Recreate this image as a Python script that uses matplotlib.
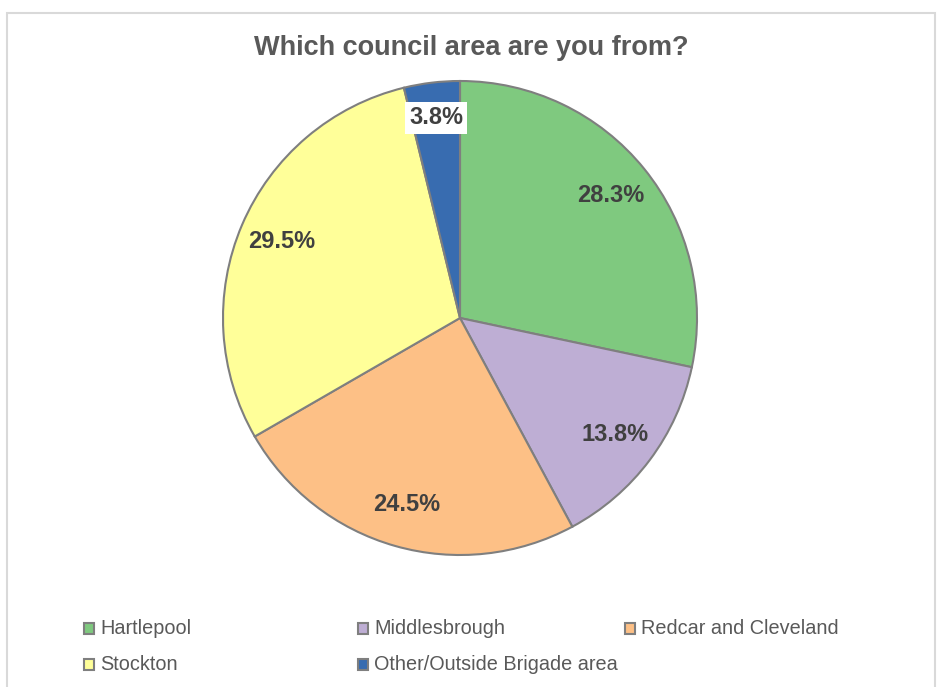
import matplotlib.pyplot as plt
import numpy as np
from matplotlib.patches import Rectangle

plt.rcParams['font.family'] = ['Liberation Sans', 'DejaVu Sans']

# survey answers
areas = ["Hartlepool", "Middlesbrough", "Redcar and Cleveland", "Stockton", "Other/Outside Brigade area"]
shares = [28.3, 13.8, 24.5, 29.5, 3.8]
colors = ["#7FC97F", "#BEAED4", "#FDC086", "#FFFF99", "#386CB0"]

fig = plt.figure(figsize=(9.42, 6.87), dpi=100)

# light grey chart frame
fig.patches.append(Rectangle((7 / 942, -0.01), 928 / 942, 1 - 13 / 687 + 0.01,
                             transform=fig.transFigure, fill=False,
                             edgecolor="#D9D9D9", linewidth=1.5))

fig.text(0.5, 1 - 48 / 687, "Which council area are you from?", ha="center", va="center",
         fontsize=19.5, fontweight="bold", color="#595959")

ax = fig.add_axes([223 / 942, 132 / 687, 474 / 942, 474 / 687])
wedges, _ = ax.pie(shares, colors=colors, startangle=90, counterclock=False,
                   wedgeprops=dict(edgecolor="#7F7F7F", linewidth=1.5))
ax.set_aspect("equal")
ax.set_xlim(-1, 1)
ax.set_ylim(-1, 1)

# percentage labels inside the slices
for w, val in zip(wedges, shares):
    mid = np.deg2rad((w.theta1 + w.theta2) / 2)
    small = val < 5
    r = 0.85 if small else 0.82
    box = dict(facecolor="white", edgecolor="none", pad=3) if small else None
    ax.text(r * np.cos(mid), r * np.sin(mid), f"{val:.1f}%", ha="center", va="center",
            fontsize=17, fontweight="bold", color="#404040", bbox=box)

# legend drawn as a grid under the pie
col_x = [84, 358, 625]
row_y = [629, 665]
for i, (name, c) in enumerate(zip(areas, colors)):
    x = col_x[i % 3]
    y = row_y[i // 3]
    fig.patches.append(Rectangle((x / 942, 1 - (y + 5) / 687), 10 / 942, 11 / 687,
                                 transform=fig.transFigure, facecolor=c,
                                 edgecolor="#7F7F7F", linewidth=1.5))
    fig.text((x + 16) / 942, 1 - y / 687, name, ha="left", va="center",
             fontsize=14.3, color="#595959")

fig.savefig("out.png", dpi=100)
